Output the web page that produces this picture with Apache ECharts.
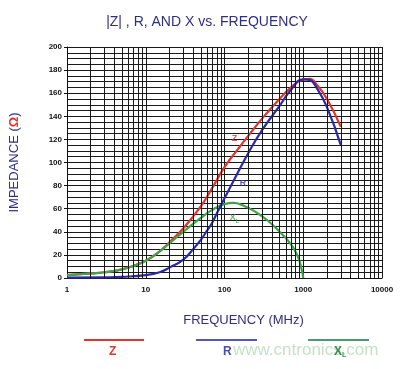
<!DOCTYPE html>
<html><head><meta charset="utf-8">
<script src="https://cdn.jsdelivr.net/npm/echarts@6/dist/echarts.min.js"></script>
<style>html,body{margin:0;padding:0;background:#fff}#c{width:414px;height:369px}</style>
</head><body><div id="c"></div>
<script>
// Frequency (MHz) and values (ohms)
const zFreq = [1, 2, 3, 5, 7, 10, 15, 20, 30, 50, 70, 100, 150, 200, 300, 500, 700, 1000, 1200, 1500, 2000, 3000];
const zVals = [2.5, 4, 5, 7.5, 10.5, 15, 23, 31, 43, 62, 78, 96, 112, 123, 138, 155, 165, 172, 172.5, 167, 155, 131];
const rFreq = [1, 3, 5, 10, 15, 20, 30, 40, 50, 60, 70, 80, 100, 130, 200, 300, 500, 700, 1000, 1200, 1500, 2000, 3000];
const rVals = [0.3, 0.6, 1, 2.5, 5, 9, 16, 25, 33, 41, 48, 56, 69, 84, 108, 128, 149, 163, 172, 171.5, 164, 148, 115];
const xFreq = [1, 2, 3, 5, 7, 10, 15, 20, 30, 50, 70, 100, 130, 170, 250, 350, 500, 700, 850, 950, 1000];
const xVals = [2.5, 4, 5, 7.5, 10.5, 15, 23, 30, 40, 52, 59, 64, 65, 63, 57, 50, 40, 29, 19, 8, 0];
const xTicks = [1, 10, 100, 1000, 10000];
const minorGrid = [2,3,4,5,6,7,8,9,20,30,40,50,60,70,80,90,200,300,400,500,600,700,800,900,2000,3000,4000,5000,6000,7000,8000,9000];
const curveLabels = [
  {text: 'Z', f: 134, v: 121},
  {text: 'R', f: 172, v: 82},
  {text: 'X', f: 134, v: 52}
];

const RED = '#e0342c', BLUE = '#2a2aa8', GREEN = '#3fa34a', NAVY = '#2e2e86';
const pair = (fs, vs) => fs.map((f, i) => [f, vs[i]]);

const chart = echarts.init(document.getElementById('c'));
chart.setOption({
  animation: false,
  backgroundColor: '#fff',
  title: {
    text: '|Z| , R, AND X vs. FREQUENCY',
    left: 'center', top: 10,
    textStyle: {fontFamily: 'Liberation Sans', fontSize: 14, fontWeight: 'normal', color: NAVY}
  },
  grid: {left: 64, right: 32, top: 47, bottom: 91},
  xAxis: {
    type: 'log', logBase: 10, min: 1, max: 10000,
    name: 'FREQUENCY (MHz)', nameLocation: 'middle', nameGap: 36,
    nameTextStyle: {fontFamily: 'Liberation Sans', fontSize: 13, color: NAVY, padding: [0, 0, 0, 38]},
    axisLine: {show: true, lineStyle: {color: '#111', width: 1}},
    axisTick: {show: false},
    axisLabel: {fontFamily: 'Liberation Sans', fontSize: 8, fontWeight: 'bold', color: '#111', margin: 8,
      formatter: v => xTicks.includes(Math.round(v)) ? String(Math.round(v)) : ''},
    splitLine: {show: true, lineStyle: {color: '#1a1a1a', width: 1}}
  },
  yAxis: {
    type: 'value', min: 0, max: 200, interval: 20,
    name: '{n|IMPEDANCE (}{o|Ω}{n|)}', nameLocation: 'middle', nameGap: 46, nameRotate: 90,
    nameTextStyle: {rich: {
      n: {fontFamily: 'Liberation Sans', fontSize: 13, color: NAVY},
      o: {fontFamily: 'Liberation Sans', fontSize: 13, color: RED, fontWeight: 'bold'}
    }},
    axisLine: {show: true, lineStyle: {color: '#111', width: 1}},
    axisTick: {show: true, length: 3, lineStyle: {color: '#111'}},
    axisLabel: {fontFamily: 'Liberation Sans', fontSize: 8, fontWeight: 'bold', color: '#111', margin: 5},
    splitLine: {show: true, lineStyle: {color: '#1a1a1a', width: 1}},
    minorTick: {show: false, splitNumber: 4},
    minorSplitLine: {show: true, lineStyle: {color: '#1a1a1a', width: 1}}
  },
  series: [
    {
      type: 'line', name: 'grid', data: [], silent: true,
      markLine: {symbol: 'none', silent: true, label: {show: false},
        lineStyle: {color: '#1a1a1a', width: 1, type: 'solid'},
        data: minorGrid.map(f => ({xAxis: f}))}
    },
    {
      type: 'line', name: 'Z', data: pair(zFreq, zVals), smooth: 0.5, showSymbol: false,
      lineStyle: {color: RED, width: 2.2}, z: 2
    },
    {
      type: 'line', name: 'X', data: pair(xFreq, xVals), smooth: 0.5, showSymbol: false,
      lineStyle: {color: GREEN, width: 2.2}, z: 3
    },
    {
      type: 'line', name: 'R', data: pair(rFreq, rVals), smooth: 0.5, showSymbol: false,
      lineStyle: {color: BLUE, width: 2.2}, z: 4
    },
    {
      type: 'scatter', name: 'labels', symbolSize: 0, silent: true,
      data: curveLabels.map(d => ({value: [d.f, d.v], name: d.text})),
      label: {show: true, position: 'inside',
        formatter: p => p.name === 'X' ? '{x|X}{s|L}' : (p.name === 'Z' ? '{z|Z}' : '{r|R}'),
        rich: {
          z: {fontFamily: 'Liberation Sans', fontSize: 9, fontWeight: 'bold', color: RED},
          r: {fontFamily: 'Liberation Sans', fontSize: 9, fontWeight: 'bold', color: BLUE},
          x: {fontFamily: 'Liberation Sans', fontSize: 9, fontWeight: 'bold', color: GREEN},
          s: {fontFamily: 'Liberation Sans', fontSize: 6, fontWeight: 'bold', color: GREEN, padding: [6, 0, 0, 0]}
        }}
    }
  ],
  graphic: [
    {type: 'line', shape: {x1: 84, y1: 340, x2: 144, y2: 340}, style: {stroke: RED, lineWidth: 2}},
    {type: 'line', shape: {x1: 196, y1: 340, x2: 257, y2: 340}, style: {stroke: '#5555c0', lineWidth: 2}},
    {type: 'line', shape: {x1: 308, y1: 340, x2: 369, y2: 340}, style: {stroke: '#4a9a70', lineWidth: 2}},
    {type: 'text', left: 109, top: 346, style: {text: 'Z', font: 'bold 12px Liberation Sans', fill: RED}},
    {type: 'text', left: 223, top: 346, style: {text: 'R', font: 'bold 12px Liberation Sans', fill: '#4a4aa8'}},
    {type: 'text', left: 233, top: 342, style: {text: 'www.cntronics.com', font: '17px Liberation Sans', fill: 'rgba(150,200,150,0.55)'}},
    {type: 'text', left: 334, top: 346, style: {text: '{x|X}{s|L}', font: 'bold 12px Liberation Sans',
      rich: {x: {font: 'bold 12px Liberation Sans', fill: '#3a8a50'}, s: {font: 'bold 7px Liberation Sans', fill: '#3a8a50', padding: [6,0,0,0]}}}}
  ]
});
</script></body></html>
